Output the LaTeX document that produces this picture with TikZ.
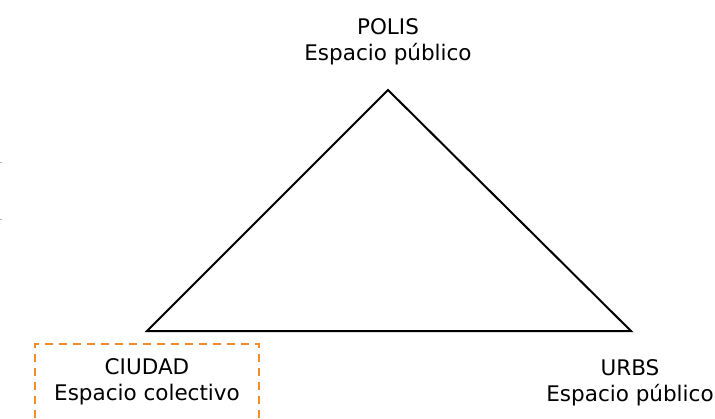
\documentclass[tikz,border=0pt]{standalone}
\usepackage{fontspec}
\setmainfont{DejaVu Sans}
\definecolor{dashorange}{HTML}{F28C28}
\begin{document}
\begin{tikzpicture}[x=1pt,y=-1pt,
  lbl/.style={align=center,font=\fontsize{21.5}{26}\selectfont,inner sep=0pt,text=black},
  tri/.style={draw=black,line width=2pt,line join=miter},
  dashbox/.style={draw=dashorange,line width=2.6pt,dash pattern=on 8pt off 6pt}]
\useasboundingbox (0,0) rectangle (715,418);
\coordinate (apex) at (388,90);
\coordinate (left) at (147,331);
\coordinate (right) at (631,331);
\draw[tri] (apex) -- (left) -- (right) -- cycle;
\node[lbl] (polis) at (388,42) {POLIS\\Espacio público};
\node[lbl] (ciudad) at (147,382) {CIUDAD\\Espacio colectivo};
\node[lbl] (urbs) at (630,383) {URBS\\Espacio público};
\coordinate (b1) at (35,418);
\coordinate (b2) at (35,344);
\coordinate (b3) at (259,344);
\coordinate (b4) at (259,418);
\draw[dashbox] (b1) -- (b2) -- (b3) -- (b4);
\draw[gray!60,line width=1pt] (0,162) -- (1.5,162);
\draw[gray!60,line width=1pt] (0,219) -- (1.5,219);
\end{tikzpicture}
\end{document}
